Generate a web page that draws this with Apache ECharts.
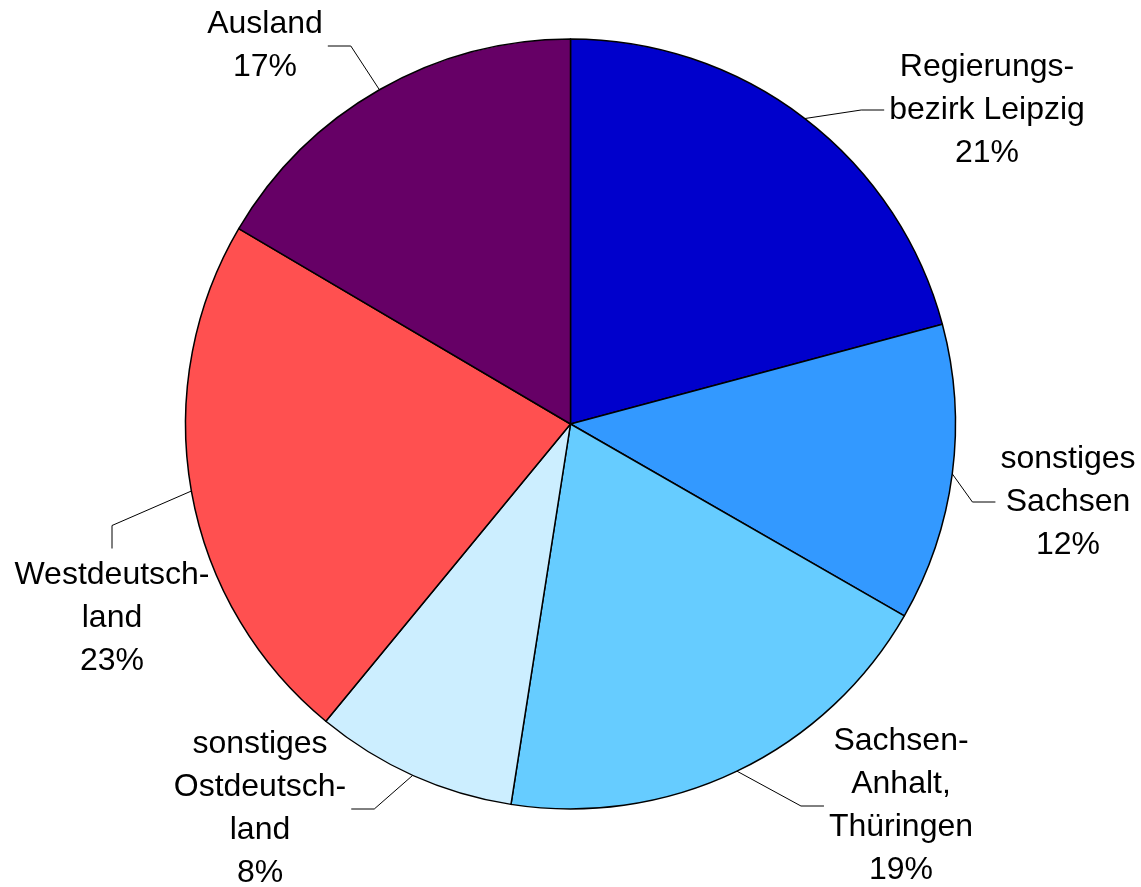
<!DOCTYPE html>
<html><head><meta charset="utf-8">
<script src="https://cdn.jsdelivr.net/npm/echarts@6/dist/echarts.min.js"></script>
<style>html,body{margin:0;padding:0;background:#fff}#c{width:1141px;height:887px}</style>
</head><body><div id="c"></div>
<script>
// Data
var categories = ['Regierungs-\nbezirk Leipzig', 'sonstiges\nSachsen', 'Sachsen-\nAnhalt,\nThüringen', 'sonstiges\nOstdeutsch-\nland', 'Westdeutsch-\nland', 'Ausland'];
var shares = [20.83, 12.47, 19.17, 8.49, 22.51, 16.53];

// Styles / layout (not data)
var colors = ['#0000CC', '#3399FF', '#66CCFF', '#CCEEFF', '#FF5050', '#660066'];
var labelCenters = [[987, 110], [1068, 502], [901, 806], [260, 809], [112, 618], [265, 46]];
var leaderSide = ['left', 'left', 'left', 'right', 'top', 'right'];
var PIE_CENTER = [570.5, 424];
var PIE_R = 385;
var GAP = 5, ELBOW = 23;

var chart = echarts.init(document.getElementById('c'), null, {renderer: 'canvas'});

var dataItems = categories.map(function (n, i) {
  return {name: n, value: shares[i], itemStyle: {color: colors[i]}};
});

function midAnglePoint(idx) {
  var total = shares.reduce(function (a, b) { return a + b; }, 0);
  var before = 0;
  for (var k = 0; k < idx; k++) before += shares[k];
  var a = (before + shares[idx] / 2) / total * 2 * Math.PI;
  return [PIE_CENTER[0] + PIE_R * Math.sin(a), PIE_CENTER[1] - PIE_R * Math.cos(a)];
}

chart.setOption({
  animation: false,
  backgroundColor: '#ffffff',
  series: [{
    type: 'pie',
    center: PIE_CENTER,
    radius: PIE_R,
    startAngle: 90,
    clockwise: true,
    avoidLabelOverlap: false,
    silent: true,
    data: dataItems,
    itemStyle: {borderColor: '#000000', borderWidth: 1.5},
    emphasis: {disabled: true},
    label: {
      show: true,
      position: 'outside',
      color: '#000000',
      fontFamily: "'Liberation Sans', Arial, sans-serif",
      fontSize: 32,
      lineHeight: 43,
      align: 'center',
      bleedMargin: -2000,
      formatter: function (p) {
        return p.name + '\n' + Math.round(p.percent) + '%';
      }
    },
    labelLine: {
      show: true,
      length: 20,
      length2: 20,
      smooth: false,
      lineStyle: {color: '#000000', width: 1}
    },
    labelLayout: function (p) {
      var i = p.dataIndex;
      var c = labelCenters[i];
      var r = p.labelRect;
      var w = r.width, h = r.height;
      var start = (p.labelLinePoints && p.labelLinePoints[0]) ? p.labelLinePoints[0] : midAnglePoint(i);
      var end, elbow;
      var side = leaderSide[i];
      if (side === 'left') {
        end = [c[0] - w / 2 - GAP, c[1]];
        elbow = [end[0] - ELBOW, end[1]];
      } else if (side === 'right') {
        end = [c[0] + w / 2 + GAP, c[1]];
        elbow = [end[0] + ELBOW, end[1]];
      } else {
        end = [c[0], c[1] - h / 2 - GAP];
        elbow = [end[0], end[1] - ELBOW];
      }
      return {
        x: c[0],
        y: c[1],
        align: 'center',
        verticalAlign: 'middle',
        labelLinePoints: [start, elbow, end]
      };
    }
  }]
});
</script>
</body></html>
